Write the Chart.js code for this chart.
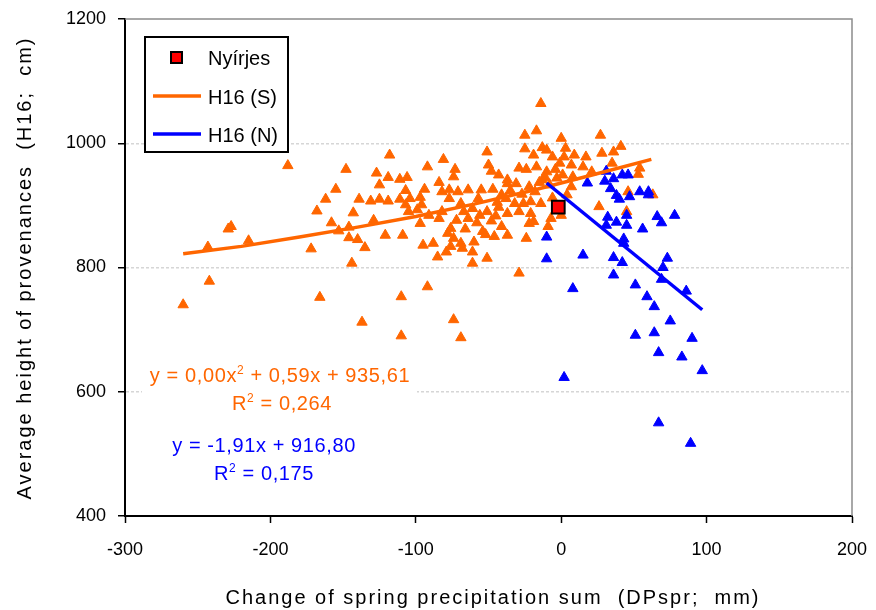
<!DOCTYPE html>
<html>
<head>
<meta charset="utf-8">
<script src="https://cdn.jsdelivr.net/npm/chart.js@4.4.0/dist/chart.umd.min.js"></script>
<style>
  html, body { margin: 0; padding: 0; background: #fff; }
</style>
</head>
<body>
<canvas id="chart" width="876" height="610"></canvas>
<script>
// tengelyek
const xTicks = [-300, -200, -100, 0, 100, 200];
const yTicks = [400, 600, 800, 1000, 1200];

// H16 (S) pontok: [DPspr, H16]
const southPoints = [
  [-260, 740], [-242, 778], [-243, 833], [-229, 862], [-227, 866], [-215, 843], [-188, 964],
  [-172, 830], [-168, 891], [-166, 752], [-162, 910],
  [-118, 981], [-148, 958], [-127, 952], [-92, 962], [-119, 945], [-111, 942], [-106, 945],
  [-155, 926], [-125, 933], [-107, 924], [-94, 926], [-84, 937], [-82, 922], [-139, 910],
  [-131, 907], [-125, 910], [-119, 907], [-111, 910], [-104, 911], [-97, 913], [-107, 901],
  [-96, 901], [-143, 888], [-105, 890], [-99, 893], [-91, 884], [-84, 879], [-158, 872],
  [-129, 876], [-97, 871], [-153, 859], [-146, 865], [-146, 848], [-140, 845], [-121, 852],
  [-109, 852], [-135, 832], [-95, 836], [-88, 839], [-85, 817], [-144, 807], [-92, 769],
  [-137, 712], [-110, 753], [-110, 690],
  [-14, 1064], [-25, 1013], [-17, 1020], [-81, 974], [-51, 986], [-25, 991], [-19, 981],
  [-13, 993], [-10, 989], [-73, 958], [-74, 946], [-50, 965], [-48, 955], [-43, 949],
  [-37, 941], [-29, 960], [-24, 958], [-17, 962], [-10, 954], [-4, 958], [-31, 935],
  [-37, 935], [-64, 925], [-71, 922], [-77, 925], [-55, 925], [-47, 926], [-22, 930],
  [-15, 937], [-8, 933], [-77, 911], [-69, 903], [-61, 895], [-57, 911], [-41, 917],
  [-38, 911], [-32, 903], [-21, 906], [-14, 903], [-82, 890], [-67, 890], [-64, 879],
  [-56, 884], [-51, 890], [-48, 875], [-45, 883], [-37, 887], [-29, 890], [-21, 887],
  [-19, 874], [-22, 871], [-76, 863], [-78, 855], [-74, 847], [-69, 839], [-76, 834],
  [-79, 825], [-68, 831], [-61, 825], [-54, 858], [-52, 853], [-46, 850], [-41, 866],
  [-37, 852], [-60, 841], [-61, 807], [-51, 815], [-24, 847], [-29, 791], [-74, 716],
  [-69, 687],
  [-44, 905], [-35, 924], [-27, 918], [-18, 922], [-11, 945], [-3, 944], [-58, 872],
  [-66, 862], [-43, 897], [-26, 903], [-6, 912], [-72, 876],
  [0, 1008], [27, 1013], [-6, 978], [3, 992], [2, 978], [9, 981], [-1, 968], [7, 965],
  [17, 978], [15, 962], [28, 984], [36, 986], [41, 995], [35, 968], [1, 949], [8, 946],
  [-13, 941], [7, 930], [4, 917], [-7, 879], [0, 884], [-9, 866], [26, 898], [46, 922],
  [53, 950], [54, 960], [63, 917], [45, 890], [21, 954]
];

// H16 (N) pontok
const northPoints = [
  [31, 955], [18, 936], [30, 939], [36, 943], [42, 949], [46, 949], [34, 927], [38, 916],
  [40, 910], [47, 914], [54, 922], [60, 922], [60, 917], [32, 881], [38, 873], [45, 884],
  [45, 868], [31, 868], [43, 846], [43, 839], [56, 862], [66, 882], [69, 872], [78, 884],
  [-10, 849], [-10, 814], [15, 820], [36, 816], [42, 808], [36, 788], [8, 766], [51, 772],
  [73, 815], [70, 800], [69, 781], [59, 753], [64, 737], [86, 762], [75, 714], [51, 691],
  [64, 695], [90, 686], [67, 663], [83, 656], [97, 634], [2, 623], [67, 550], [89, 517]
];

const nyirjesPoint = [[-2, 897]];

// trendvonalak
const trendSX = [-260, -220, -180, -140, -100, -60, -20, 20, 62];
const trendSY = [822, 834, 849, 865, 882, 902, 924, 948, 974];
const trendNX = [-10, 97];
const trendNY = [936, 732];

const eqS = ['y = 0,00x', '2', ' + 0,59x + 935,61', 'R', '2', ' = 0,264'];
const eqN = ['y = -1,91x + 916,80', 'R', '2', ' = 0,175'];

const ORANGE = '#FF6600';
const BLUE = '#0000FF';
const FONT = 'Arial, "Liberation Sans", sans-serif';

const toXY = pts => pts.map(p => ({ x: p[0], y: p[1] }));
const zip = (xs, ys) => xs.map((x, i) => ({ x: x, y: ys[i] }));

// szöveg felső indexszel
function drawParts(ctx, parts, cx, y, size) {
  // parts: váltakozó normál / felső index darabok
  let w = 0;
  parts.forEach((t, i) => {
    ctx.font = (i % 2 ? Math.round(size * 0.62) : size) + 'px ' + FONT;
    w += ctx.measureText(t).width;
  });
  let x = cx - w / 2;
  parts.forEach((t, i) => {
    const sup = i % 2 === 1;
    ctx.font = (sup ? Math.round(size * 0.62) : size) + 'px ' + FONT;
    ctx.fillText(t, x, sup ? y - size * 0.42 : y);
    x += ctx.measureText(t).width;
  });
}

const overlay = {
  id: 'overlay',
  beforeDatasetsDraw(chart) {
    const { ctx, chartArea: a } = chart;
    ctx.save();
    // felső és jobb keret
    ctx.strokeStyle = '#8c8c8c';
    ctx.lineWidth = 1.5;
    ctx.beginPath();
    ctx.moveTo(a.left, a.top);
    ctx.lineTo(a.right, a.top);
    ctx.lineTo(a.right, a.bottom);
    ctx.stroke();
    // egyenlet háttere
    ctx.fillStyle = '#fff';
    ctx.fillRect(142, 362, 275, 56);
    ctx.restore();
  },
  afterDraw(chart) {
    const { ctx } = chart;
    ctx.save();
    ctx.textBaseline = 'alphabetic';
    ctx.letterSpacing = '0.6px';

    // egyenletek
    ctx.fillStyle = ORANGE;
    drawParts(ctx, eqS.slice(0, 3), 280, 382, 20);
    drawParts(ctx, eqS.slice(3), 282, 410, 20);
    ctx.fillStyle = BLUE;
    drawParts(ctx, [eqN[0]], 264, 452, 20);
    drawParts(ctx, eqN.slice(1), 264, 480, 20);

    // jelmagyarázat
    ctx.letterSpacing = '0px';
    ctx.fillStyle = '#fff';
    ctx.fillRect(145, 37, 143, 115);
    ctx.strokeStyle = '#000';
    ctx.lineWidth = 2;
    ctx.strokeRect(145, 37, 143, 115);
    const ds = chart.data.datasets;
    ctx.fillStyle = '#FF0000';
    ctx.fillRect(171, 52, 11, 11);
    ctx.strokeRect(171, 52, 11, 11);
    ctx.lineWidth = 3.5;
    ctx.strokeStyle = ORANGE;
    ctx.beginPath(); ctx.moveTo(153, 96); ctx.lineTo(201, 96); ctx.stroke();
    ctx.strokeStyle = BLUE;
    ctx.beginPath(); ctx.moveTo(153, 134); ctx.lineTo(201, 134); ctx.stroke();
    ctx.fillStyle = '#000';
    ctx.font = '20px ' + FONT;
    ctx.fillText(ds[0].label, 208, 65);
    ctx.fillText(ds[2].label, 208, 104);
    ctx.fillText(ds[1].label, 208, 142);

    // tengelycímek
    ctx.letterSpacing = '2px';
    ctx.textAlign = 'center';
    ctx.fillText('Change of spring precipitation sum  (DPspr;  mm)', 493, 604);
    ctx.translate(31, 268);
    ctx.rotate(-Math.PI / 2);
    ctx.fillText('Average height of provenances  (H16;  cm)', 0, 0);
    ctx.restore();
  }
};

const ctx = document.getElementById('chart').getContext('2d');
new Chart(ctx, {
  type: 'scatter',
  data: {
    datasets: [
      {
        label: 'Nyírjes',
        data: toXY(nyirjesPoint),
        pointStyle: 'rect',
        pointRadius: 9,
        backgroundColor: '#FF0000',
        borderColor: '#000',
        borderWidth: 2
      },
      {
        label: 'H16 (N)',
        data: zip(trendNX, trendNY),
        showLine: true,
        borderColor: BLUE,
        borderWidth: 3.5,
        pointRadius: 0
      },
      {
        label: 'H16 (S)',
        data: zip(trendSX, trendSY),
        showLine: true,
        borderColor: ORANGE,
        borderWidth: 3.5,
        pointRadius: 0
      },
      {
        label: 'N',
        data: toXY(northPoints),
        pointStyle: 'triangle',
        pointRadius: 6,
        backgroundColor: BLUE,
        borderColor: BLUE,
        borderWidth: 1
      },
      {
        label: 'S',
        data: toXY(southPoints),
        pointStyle: 'triangle',
        pointRadius: 6,
        backgroundColor: ORANGE,
        borderColor: ORANGE,
        borderWidth: 1
      }
    ]
  },
  options: {
    responsive: false,
    animation: false,
    layout: { padding: { top: 19, right: 24, left: 0, bottom: 0 } },
    plugins: { legend: { display: false }, tooltip: { enabled: false } },
    scales: {
      x: {
        type: 'linear',
        min: -300,
        max: 200,
        afterBuildTicks: s => { s.ticks = xTicks.map(v => ({ value: v })); },
        afterFit: s => { s.height = 94; s.paddingLeft = 0; s.paddingRight = 0; },
        ticks: {
          color: '#000',
          font: { family: FONT, size: 18 },
          padding: 16,
          maxRotation: 0,
          callback: v => String(v)
        },
        grid: { drawOnChartArea: false, tickLength: 7, tickColor: '#000', tickWidth: 1.5 },
        border: { color: '#000', width: 2 }
      },
      y: {
        min: 400,
        max: 1200,
        afterBuildTicks: s => { s.ticks = yTicks.map(v => ({ value: v })); },
        afterFit: s => { s.width = 125; s.paddingTop = 0; s.paddingBottom = 0; },
        ticks: {
          color: '#000',
          font: { family: FONT, size: 18 },
          padding: 12,
          callback: v => String(v)
        },
        grid: {
          color: c => [600, 800, 1000].includes(c.tick && c.tick.value) ? '#d6d6d6' : 'rgba(0,0,0,0)',
          lineWidth: 1.5,
          tickLength: 7,
          tickColor: '#000',
          tickWidth: 1.5,
          tickBorderDash: [1, 0]
        },
        border: { color: '#000', width: 2, dash: [3, 2] }
      }
    }
  },
  plugins: [overlay]
});
</script>
</body>
</html>
